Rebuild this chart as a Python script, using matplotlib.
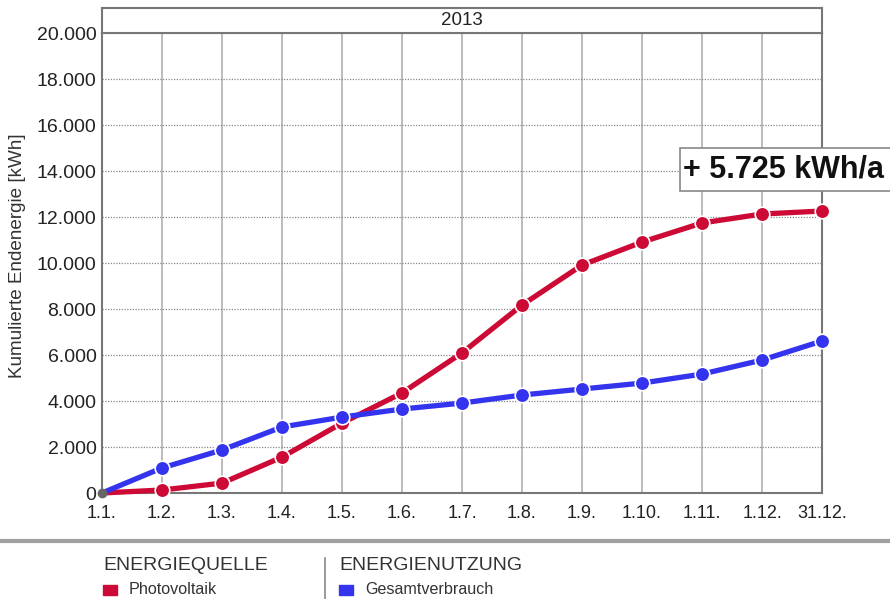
import matplotlib.pyplot as plt
import matplotlib.lines as mlines
import matplotlib.patches as mpatches
import numpy as np

plt.rcParams['font.family'] = ['Liberation Sans', 'DejaVu Sans']

months = ['1.1.', '1.2.', '1.3.', '1.4.', '1.5.', '1.6.', '1.7.', '1.8.', '1.9.', '1.10.', '1.11.', '1.12.', '31.12.']
photovoltaik = [0, 130, 430, 1560, 3040, 4350, 6090, 8170, 9910, 10910, 11740, 12130, 12260]
gesamtverbrauch = [0, 1090, 1870, 2870, 3300, 3650, 3910, 4260, 4520, 4780, 5170, 5780, 6610]
yticks = [0, 2000, 4000, 6000, 8000, 10000, 12000, 14000, 16000, 18000, 20000]
ytick_labels = ['0', '2.000', '4.000', '6.000', '8.000', '10.000', '12.000', '14.000', '16.000', '18.000', '20.000']

red = '#CC0A35'
blue = '#3434EE'
W, H = 890, 599

fig = plt.figure(figsize=(8.9, 5.99), dpi=100)
ax = fig.add_axes([102/W, 1-493/H, 720/W, 460/H])
x = np.arange(len(months))

ax.plot(x, photovoltaik, color=red, lw=3.8, zorder=3, solid_capstyle='round', clip_on=False)
ax.plot(x[1:], photovoltaik[1:], 'o', color=red, ms=10.5, mec='white', mew=1.2, zorder=4, clip_on=False)
ax.plot(x, gesamtverbrauch, color=blue, lw=3.8, zorder=3, solid_capstyle='round', clip_on=False)
ax.plot(x[1:], gesamtverbrauch[1:], 'o', color=blue, ms=10.5, mec='white', mew=1.2, zorder=4, clip_on=False)
ax.plot([0], [0], 'o', color='#666666', ms=6, zorder=5, clip_on=False)

ax.set_xlim(0, len(months)-1)
ax.set_ylim(0, 20000)
ax.set_xticks(x)
ax.set_xticklabels(months, fontsize=13, color='#222222')
ax.set_yticks(yticks)
ax.set_yticklabels(ytick_labels, fontsize=14, color='#222222')
ax.tick_params(axis='x', length=0, pad=9)
ax.tick_params(axis='y', length=0, pad=4)
fig.text(18/W, 1-256/H, 'Kumulierte Endenergie [kWh]', rotation=90, ha='center', va='center',
         fontsize=13.6, color='#333333')

for xi in x[1:-1]:
    ax.axvline(xi, color='#b0b0b0', lw=1.2, zorder=1)
for yi in yticks[1:-1]:
    ax.axhline(yi, color='#888888', lw=0.9, ls=(0, (1, 1.2)), zorder=1)
for s in ax.spines.values():
    s.set_color('#777777')
    s.set_linewidth(1.5)

# header box
hax = fig.add_axes([102/W, 1-33/H, 720/W, 25/H])
hax.set_xticks([])
hax.set_yticks([])
for s in hax.spines.values():
    s.set_color('#777777')
    s.set_linewidth(1.5)
hax.text(0.5, 0.5, '2013', ha='center', va='center', fontsize=13.5, color='#222222', transform=hax.transAxes)

# annotation
fig.add_artist(mpatches.Rectangle((680/W, 1-191/H), 220/W, 43/H, fc='white', ec='#888888', lw=1.2, zorder=6))
fig.text(683/W, 1-170/H, '+ 5.725 kWh/a', ha='left', va='center', fontsize=22, fontweight='bold',
         color='#111111', zorder=7)

# legend area
fig.add_artist(mlines.Line2D([0, 1], [1-541/H, 1-541/H], color='#a0a0a0', lw=3))
fig.add_artist(mlines.Line2D([325/W, 325/W], [0, 1-558/H], color='#888888', lw=1.2))
fig.text(103/W, 1-566/H, 'ENERGIEQUELLE', ha='left', va='center', fontsize=14, color='#333333')
fig.text(339/W, 1-566/H, 'ENERGIENUTZUNG', ha='left', va='center', fontsize=14, color='#333333')
fig.add_artist(mpatches.Rectangle((103/W, 1-595/H), 14/W, 10/H, color=red))
fig.add_artist(mpatches.Rectangle((339/W, 1-595/H), 14/W, 10/H, color=blue))
fig.text(129/W, 1-590/H, 'Photovoltaik', ha='left', va='center', fontsize=11.6, color='#333333')
fig.text(365/W, 1-590/H, 'Gesamtverbrauch', ha='left', va='center', fontsize=11.6, color='#333333')

fig.savefig('out.png', dpi=100)
